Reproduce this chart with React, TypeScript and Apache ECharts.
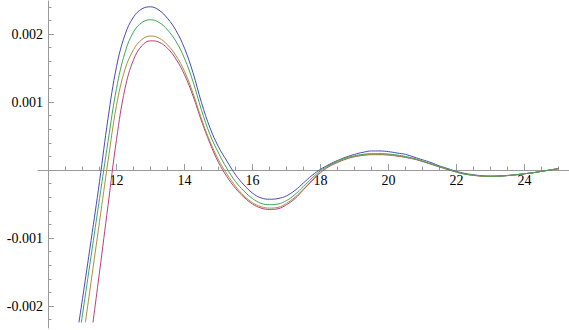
import React, { useEffect, useRef } from "react";
import * as echarts from "echarts";

// x grid (shared by all curves)
const X = [
  10.75, 11.0, 11.25, 11.5, 11.75, 12.0, 12.25, 12.5, 12.75, 13.0,
  13.25, 13.5, 13.75, 14.0, 14.25, 14.5, 14.75, 15.0, 15.25, 15.5,
  15.75, 16.0, 16.25, 16.5, 16.75, 17.0, 17.25, 17.5, 17.75, 18.0,
  18.25, 18.5, 18.75, 19.0, 19.25, 19.5, 19.75, 20.0, 20.25, 20.5,
  20.75, 21.0, 21.25, 21.5, 21.75, 22.0, 22.25, 22.5, 22.75, 23.0,
  23.25, 23.5, 23.75, 24.0, 24.25, 24.5, 24.75, 25.0,
];

// values in thousandths (×0.001)
const BLUE = [
  -2.72, -1.89, -1.04, -0.17, 0.76, 1.52, 1.99, 2.25, 2.37, 2.40,
  2.35, 2.23, 2.05, 1.79, 1.43, 0.99, 0.62, 0.34, 0.13, -0.07,
  -0.22, -0.34, -0.41, -0.43, -0.42, -0.38, -0.30, -0.19, -0.08, 0.01,
  0.08, 0.14, 0.19, 0.23, 0.26, 0.28, 0.28, 0.27, 0.25, 0.23,
  0.19, 0.15, 0.11, 0.06, 0.02, -0.02, -0.05, -0.07, -0.085, -0.09,
  -0.088, -0.08, -0.07, -0.055, -0.04, -0.02, 0.0, 0.02,
];
const GREEN = [
  -2.95, -2.12, -1.27, -0.42, 0.42, 1.20, 1.73, 2.03, 2.17, 2.21,
  2.17, 2.06, 1.89, 1.64, 1.30, 0.88, 0.52, 0.25, 0.02, -0.17,
  -0.31, -0.42, -0.49, -0.51, -0.50, -0.45, -0.36, -0.24, -0.12, -0.01,
  0.07, 0.13, 0.18, 0.21, 0.23, 0.24, 0.24, 0.235, 0.22, 0.20,
  0.17, 0.13, 0.09, 0.05, 0.01, -0.03, -0.06, -0.075, -0.088, -0.092,
  -0.09, -0.082, -0.07, -0.055, -0.04, -0.02, 0.0, 0.02,
];
const OLIVE = [
  null, -2.54, -1.65, -0.76, 0.13, 0.95, 1.48, 1.77, 1.92, 1.97,
  1.94, 1.84, 1.68, 1.45, 1.13, 0.75, 0.42, 0.15, -0.06, -0.24,
  -0.38, -0.48, -0.54, -0.56, -0.55, -0.49, -0.40, -0.28, -0.15, -0.03,
  0.06, 0.12, 0.17, 0.20, 0.22, 0.23, 0.23, 0.225, 0.21, 0.19,
  0.165, 0.13, 0.09, 0.05, 0.01, -0.03, -0.06, -0.078, -0.09, -0.093,
  -0.09, -0.082, -0.07, -0.055, -0.04, -0.02, 0.0, 0.02,
];
const MAGENTA = [
  null, null, -2.46, -1.50, -0.52, 0.45, 1.20, 1.62, 1.83, 1.90,
  1.88, 1.79, 1.63, 1.40, 1.09, 0.72, 0.39, 0.11, -0.10, -0.27,
  -0.40, -0.50, -0.56, -0.58, -0.57, -0.51, -0.42, -0.29, -0.16, -0.04,
  0.05, 0.11, 0.16, 0.195, 0.215, 0.225, 0.225, 0.22, 0.205, 0.185,
  0.16, 0.125, 0.085, 0.045, 0.005, -0.03, -0.06, -0.078, -0.09, -0.093,
  -0.09, -0.082, -0.07, -0.055, -0.04, -0.02, 0.0, 0.02,
];

const X_MAJOR = [12, 14, 16, 18, 20, 22, 24];
const X_MINOR = [
  10.5, 11, 11.5, 12.5, 13, 13.5, 14.5, 15, 15.5, 16.5, 17, 17.5,
  18.5, 19, 19.5, 20.5, 21, 21.5, 22.5, 23, 23.5, 24.5, 25,
];
const Y_MAJOR = [-0.002, -0.001, 0.001, 0.002];
const Y_MINOR = [
  -0.0022, -0.0018, -0.0016, -0.0014, -0.0012, -0.0008, -0.0006, -0.0004,
  -0.0002, 0.0002, 0.0004, 0.0006, 0.0008, 0.0012, 0.0014, 0.0016, 0.0018,
  0.0022, 0.0024,
];

const SERIES = [
  { name: "a", values: BLUE, color: "#4848b8" },
  { name: "b", values: MAGENTA, color: "#b4407e" },
  { name: "c", values: OLIVE, color: "#a8903c" },
  { name: "d", values: GREEN, color: "#3ea65a" },
];

const X_MIN = 9.69;
const X_MAX = 25.31;
// 68 px per 0.001, zero at y=170
const PLOT_Y_MAX = 169 / 68 / 1000;
const PLOT_Y_MIN = -152 / 68 / 1000;
const AXIS_Y_MIN = -158 / 68 / 1000;

const AXIS_COLOR = "#9a9a9a";
const FONT = "'Liberation Serif', 'Times New Roman', serif";

export default function App() {
  const ref = useRef<HTMLDivElement>(null);
  useEffect(() => {
    document.body.style.margin = "0";
    const chart = echarts.init(ref.current!, null, { renderer: "svg" });
    const series = SERIES.map((s) => ({
      type: "line",
      name: s.name,
      xAxisIndex: 0,
      yAxisIndex: 0,
      data: X.map((x, i) => [x, s.values[i]])
        .filter((p) => p[1] !== null)
        .map((p) => [p[0], (p[1] as number) * 0.001]),
      smooth: 0.4,
      showSymbol: false,
      clip: true,
      lineStyle: { color: s.color, width: 1 },
      itemStyle: { color: s.color },
    }));
    const gridBase = { outerBoundsMode: "none", containLabel: false };
    chart.setOption({
      animation: false,
      backgroundColor: "#ffffff",
      textStyle: { fontFamily: FONT },
      grid: [
        // plot area for the curves
        { ...gridBase, left: 38, right: 0, top: 1, bottom: 8 },
        // vertical axis at x = 10
        { ...gridBase, left: 48, right: 0, top: 1, bottom: 2 },
        // horizontal axis at y = 0
        { ...gridBase, left: 38, right: 0, top: 1, bottom: 160 },
      ],
      xAxis: [
        { type: "value", gridIndex: 0, min: X_MIN, max: X_MAX, show: false },
        { type: "value", gridIndex: 1, min: 0, max: 1, show: false },
        {
          type: "value",
          gridIndex: 2,
          min: X_MIN,
          max: X_MAX,
          position: "bottom",
          axisLine: { show: true, onZero: false, lineStyle: { color: AXIS_COLOR, width: 1 } },
          axisTick: { show: true, inside: true, length: 6, customValues: X_MAJOR, lineStyle: { color: AXIS_COLOR } },
          axisLabel: {
            show: true,
            customValues: X_MAJOR,
            margin: 3,
            color: "#000",
            fontFamily: FONT,
            fontSize: 14,
            formatter: (v: number) => String(v),
          },
          splitLine: { show: false },
        },
        {
          type: "value",
          gridIndex: 2,
          min: X_MIN,
          max: X_MAX,
          position: "bottom",
          axisLine: { show: false, onZero: false },
          axisTick: { show: true, inside: true, length: 3.5, customValues: X_MINOR, lineStyle: { color: AXIS_COLOR } },
          axisLabel: { show: false },
          splitLine: { show: false },
        },
      ],
      yAxis: [
        { type: "value", gridIndex: 0, min: PLOT_Y_MIN, max: PLOT_Y_MAX, show: false },
        {
          type: "value",
          gridIndex: 1,
          min: AXIS_Y_MIN,
          max: PLOT_Y_MAX,
          position: "left",
          axisLine: { show: true, onZero: false, lineStyle: { color: AXIS_COLOR, width: 1 } },
          axisTick: { show: true, inside: true, length: 6, customValues: Y_MAJOR, lineStyle: { color: AXIS_COLOR } },
          axisLabel: {
            show: true,
            customValues: Y_MAJOR,
            margin: 5,
            color: "#000",
            fontFamily: FONT,
            fontSize: 14,
            formatter: (v: number) => v.toFixed(3),
          },
          splitLine: { show: false },
        },
        {
          type: "value",
          gridIndex: 1,
          min: AXIS_Y_MIN,
          max: PLOT_Y_MAX,
          position: "left",
          axisLine: { show: false, onZero: false },
          axisTick: { show: true, inside: true, length: 3.5, customValues: Y_MINOR, lineStyle: { color: AXIS_COLOR } },
          axisLabel: { show: false },
          splitLine: { show: false },
        },
        { type: "value", gridIndex: 2, min: -1, max: 0, show: false },
      ],
      series,
    });
    return () => chart.dispose();
  }, []);
  return <div ref={ref} style={{ width: 569, height: 330 }} />;
}
